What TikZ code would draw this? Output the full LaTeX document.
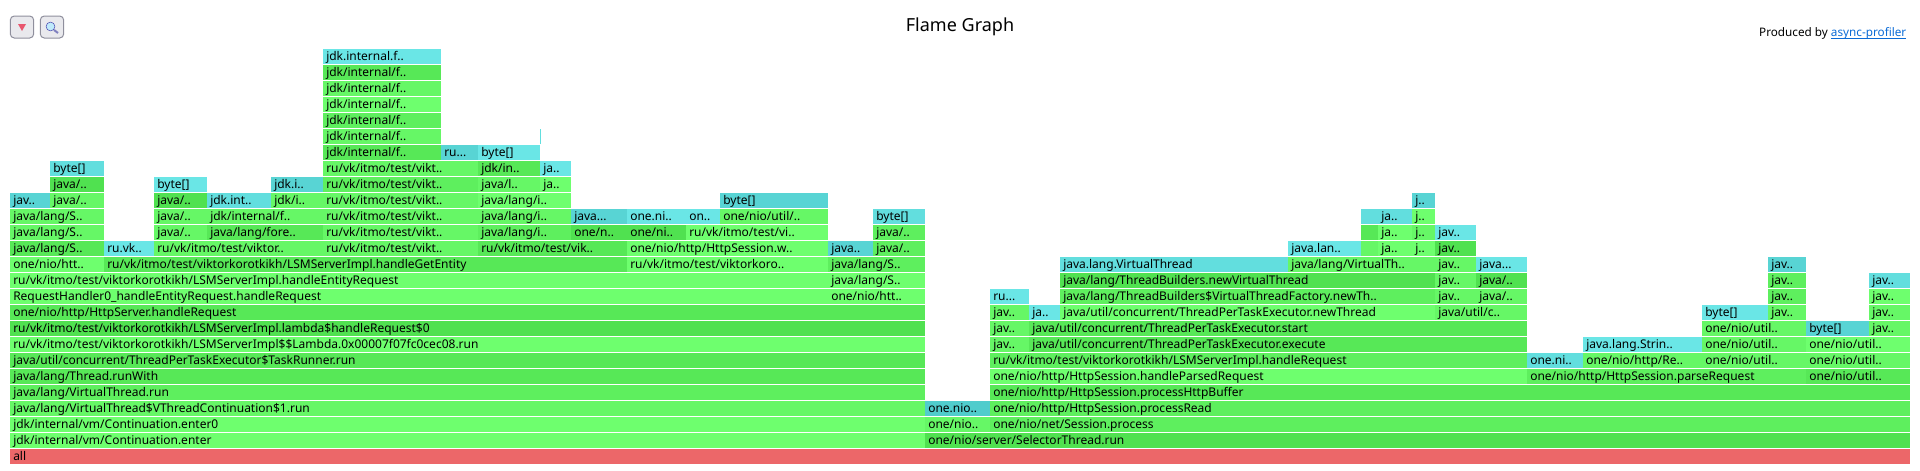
\documentclass[tikz,border=0pt]{standalone}
\usepackage{fontspec}
\setmainfont{Noto Sans}
\definecolor{gA}{HTML}{6EFF6E}
\definecolor{gB}{HTML}{66F766}
\definecolor{gC}{HTML}{5EEF5E}
\definecolor{gD}{HTML}{57E857}
\definecolor{gE}{HTML}{50E150}
\definecolor{aA}{HTML}{6AE6E6}
\definecolor{aB}{HTML}{62DEDE}
\definecolor{aC}{HTML}{58D4D4}
\definecolor{aD}{HTML}{50CCCC}
\definecolor{rA}{HTML}{EC6769}
\definecolor{btnF}{HTML}{E9E9ED}
\definecolor{btnD}{HTML}{8F8F9D}
\definecolor{linkC}{HTML}{0B6BD6}
\definecolor{triC}{HTML}{E8566E}
\tikzstyle{fS}=[anchor=north west,inner xsep=2.25pt,inner ysep=0pt,text height=8.1pt,text depth=3.15pt,font=\fontsize{9pt}{9pt}\selectfont,align=left]
\tikzstyle{bS}=[draw=btnD,fill=btnF,rounded corners=3pt,line width=0.75pt,minimum width=17.5pt,minimum height=16.5pt,inner sep=0pt]
\newcommand{\fBar}[6]{\node[fS,fill=#2,text width={(#5-#4)*0.75pt-4.5pt}] (#1) at (#4,{449-16*#3}) {\mbox{#6}};}
\begin{document}
\begin{tikzpicture}[x=0.75pt,y=-0.75pt]
    \useasboundingbox (0,0) rectangle (1920,471);
    \node[font=\fontsize{13.5pt}{13.5pt}\selectfont] (title) at (960,27) {Flame Graph};
    \node[anchor=east,font=\fontsize{8.8pt}{9pt}\selectfont] (by) at (1911,33) {Produced by \textcolor{linkC}{\underline{\smash{async-profiler}}}};
    \node[bS] (btnA) at (22,27) {};
    \node[bS] (btnB) at (52,27) {};
    \fill[triC] (18,24) -- (26,24) -- (22,31) -- cycle;
    \draw[line width=1.5pt,color=black!50!blue!50] (54,30) -- (58,33);
    \draw[fill=cyan!25,draw=blue!40!gray] (50.5,26.5) circle (3.3pt);
    % row 0-4
    \fBar{r0a}{rA}{0}{10}{1910}{all}
    \fBar{r1a}{gA}{1}{10}{925}{jdk/internal/vm/Continuation.enter}
    \fBar{r1b}{gE}{1}{925}{1910}{one/nio/server/SelectorThread.run}
    \fBar{r2a}{gA}{2}{10}{925}{jdk/internal/vm/Continuation.enter0}
    \fBar{r2b}{gB}{2}{925}{990}{one/nio..}
    \fBar{r2c}{gC}{2}{990}{1910}{one/nio/net/Session.process}
    \fBar{r3a}{gB}{3}{10}{925}{java/lang/VirtualThread\$VThreadContinuation\$1.run}
    \fBar{r3b}{aD}{3}{925}{990}{one.nio..}
    \fBar{r3c}{gC}{3}{990}{1910}{one/nio/http/HttpSession.processRead}
    \fBar{r4a}{gC}{4}{10}{925}{java/lang/VirtualThread.run}
    \fBar{r4b}{gD}{4}{990}{1910}{one/nio/http/HttpSession.processHttpBuffer}
    % row 5-8
    \fBar{r5a}{gD}{5}{10}{925}{java/lang/Thread.runWith}
    \fBar{r5b}{gA}{5}{990}{1527}{one/nio/http/HttpSession.handleParsedRequest}
    \fBar{r5c}{gC}{5}{1527}{1806}{one/nio/http/HttpSession.parseRequest}
    \fBar{r5d}{gD}{5}{1806}{1910}{one/nio/util..}
    \fBar{r6a}{gD}{6}{10}{925}{java/util/concurrent/ThreadPerTaskExecutor\$TaskRunner.run}
    \fBar{r6b}{gC}{6}{990}{1527}{ru/vk/itmo/test/viktorkorotkikh/LSMServerImpl.handleRequest}
    \fBar{r6c}{aB}{6}{1527}{1583}{one.ni..}
    \fBar{r6d}{gB}{6}{1583}{1702}{one/nio/http/Re..}
    \fBar{r6e}{gB}{6}{1702}{1806}{one/nio/util..}
    \fBar{r6f}{gB}{6}{1806}{1910}{one/nio/util..}
    \fBar{r7a}{gA}{7}{10}{925}{ru/vk/itmo/test/viktorkorotkikh/LSMServerImpl\$\$Lambda.0x00007f07fc0cec08.run}
    \fBar{r7b}{gB}{7}{990}{1029}{jav..}
    \fBar{r7c}{gD}{7}{1029}{1527}{java/util/concurrent/ThreadPerTaskExecutor.execute}
    \fBar{r7d}{aA}{7}{1583}{1702}{java.lang.Strin..}
    \fBar{r7e}{gB}{7}{1702}{1806}{one/nio/util..}
    \fBar{r7f}{gA}{7}{1806}{1910}{one/nio/util..}
    \fBar{r8a}{gE}{8}{10}{925}{ru/vk/itmo/test/viktorkorotkikh/LSMServerImpl.lambda\$handleRequest\$0}
    \fBar{r8b}{gB}{8}{990}{1029}{jav..}
    \fBar{r8c}{gD}{8}{1029}{1527}{java/util/concurrent/ThreadPerTaskExecutor.start}
    \fBar{r8d}{gB}{8}{1702}{1806}{one/nio/util..}
    \fBar{r8e}{aC}{8}{1806}{1869}{byte[]}
    \fBar{r8f}{gB}{8}{1869}{1910}{jav..}
    % row 9-12
    \fBar{r9a}{gD}{9}{10}{925}{one/nio/http/HttpServer.handleRequest}
    \fBar{r9b}{gB}{9}{990}{1029}{jav..}
    \fBar{r9c}{aA}{9}{1029}{1060}{ja..}
    \fBar{r9d}{gA}{9}{1060}{1435}{java/util/concurrent/ThreadPerTaskExecutor.newThread}
    \fBar{r9e}{gB}{9}{1435}{1527}{java/util/c..}
    \fBar{r9f}{aA}{9}{1702}{1768}{byte[]}
    \fBar{r9g}{gB}{9}{1768}{1806}{jav..}
    \fBar{r9h}{gB}{9}{1869}{1910}{jav..}
    \fBar{r10a}{gA}{10}{10}{828}{RequestHandler0\_handleEntityRequest.handleRequest}
    \fBar{r10b}{gA}{10}{828}{925}{one/nio/htt..}
    \fBar{r10c}{aA}{10}{990}{1029}{ru...}
    \fBar{r10d}{gC}{10}{1060}{1435}{java/lang/ThreadBuilders\$VirtualThreadFactory.newTh..}
    \fBar{r10e}{gB}{10}{1435}{1476}{jav..}
    \fBar{r10f}{gB}{10}{1476}{1527}{java/..}
    \fBar{r10g}{gC}{10}{1768}{1806}{jav..}
    \fBar{r10h}{gA}{10}{1869}{1910}{jav..}
    \fBar{r11a}{gA}{11}{10}{828}{ru/vk/itmo/test/viktorkorotkikh/LSMServerImpl.handleEntityRequest}
    \fBar{r11b}{gA}{11}{828}{925}{java/lang/S..}
    \fBar{r11c}{gE}{11}{1060}{1435}{java/lang/ThreadBuilders.newVirtualThread}
    \fBar{r11d}{gB}{11}{1435}{1476}{jav..}
    \fBar{r11e}{gE}{11}{1476}{1527}{java/..}
    \fBar{r11f}{gC}{11}{1768}{1806}{jav..}
    \fBar{r11g}{aB}{11}{1869}{1910}{jav..}
    \fBar{r12a}{gA}{12}{10}{104}{one/nio/htt..}
    \fBar{r12b}{gD}{12}{104}{627}{ru/vk/itmo/test/viktorkorotkikh/LSMServerImpl.handleGetEntity}
    \fBar{r12c}{gA}{12}{627}{828}{ru/vk/itmo/test/viktorkoro..}
    \fBar{r12d}{gC}{12}{828}{925}{java/lang/S..}
    \fBar{r12e}{aB}{12}{1060}{1288}{java.lang.VirtualThread}
    \fBar{r12f}{gB}{12}{1288}{1435}{java/lang/VirtualTh..}
    \fBar{r12g}{gB}{12}{1435}{1476}{jav..}
    \fBar{r12h}{aA}{12}{1476}{1527}{java...}
    \fBar{r12i}{aC}{12}{1768}{1806}{jav..}
    % row 13-16
    \fBar{r13a}{gD}{13}{10}{104}{java/lang/S..}
    \fBar{r13b}{aA}{13}{104}{154}{ru.vk..}
    \fBar{r13c}{gB}{13}{154}{323}{ru/vk/itmo/test/viktor..}
    \fBar{r13d}{gB}{13}{323}{478}{ru/vk/itmo/test/vikt..}
    \fBar{r13e}{gD}{13}{478}{627}{ru/vk/itmo/test/vik..}
    \fBar{r13f}{gA}{13}{627}{828}{one/nio/http/HttpSession.w..}
    \fBar{r13g}{aC}{13}{828}{873}{java..}
    \fBar{r13h}{gC}{13}{873}{925}{java/..}
    \fBar{r13i}{aA}{13}{1288}{1361}{java.lan..}
    \fBar{r13j}{gB}{13}{1361}{1378}{}
    \fBar{r13k}{gA}{13}{1378}{1412}{ja..}
    \fBar{r13l}{gA}{13}{1412}{1435}{j..}
    \fBar{r13m}{gE}{13}{1435}{1476}{jav..}
    \fBar{r14a}{gB}{14}{10}{104}{java/lang/S..}
    \fBar{r14b}{gB}{14}{154}{207}{java/..}
    \fBar{r14c}{gD}{14}{207}{323}{java/lang/fore..}
    \fBar{r14d}{gB}{14}{323}{478}{ru/vk/itmo/test/vikt..}
    \fBar{r14e}{gC}{14}{478}{571}{java/lang/i..}
    \fBar{r14f}{gE}{14}{571}{627}{one/n..}
    \fBar{r14g}{gE}{14}{627}{686}{one/ni..}
    \fBar{r14h}{gA}{14}{686}{828}{ru/vk/itmo/test/vi..}
    \fBar{r14i}{gC}{14}{873}{925}{java/..}
    \fBar{r14j}{gD}{14}{1361}{1378}{}
    \fBar{r14k}{gA}{14}{1378}{1412}{ja..}
    \fBar{r14l}{gB}{14}{1412}{1435}{j..}
    \fBar{r14m}{aA}{14}{1435}{1476}{jav..}
    \fBar{r15a}{gB}{15}{10}{104}{java/lang/S..}
    \fBar{r15b}{gB}{15}{154}{207}{java/..}
    \fBar{r15c}{gB}{15}{207}{323}{jdk/internal/f..}
    \fBar{r15d}{gB}{15}{323}{478}{ru/vk/itmo/test/vikt..}
    \fBar{r15e}{gB}{15}{478}{571}{java/lang/i..}
    \fBar{r15f}{aC}{15}{571}{627}{java...}
    \fBar{r15g}{aA}{15}{627}{686}{one.ni..}
    \fBar{r15h}{aA}{15}{686}{720}{on..}
    \fBar{r15i}{gB}{15}{720}{828}{one/nio/util/..}
    \fBar{r15j}{aB}{15}{873}{925}{byte[]}
    \fBar{r15k}{aB}{15}{1361}{1378}{}
    \fBar{r15l}{aB}{15}{1378}{1412}{ja..}
    \fBar{r15m}{gA}{15}{1412}{1435}{j..}
    \fBar{r16a}{aC}{16}{10}{50}{jav..}
    \fBar{r16b}{gB}{16}{50}{104}{java/..}
    \fBar{r16c}{gE}{16}{154}{207}{java/..}
    \fBar{r16d}{aB}{16}{207}{271}{jdk.int..}
    \fBar{r16e}{gB}{16}{271}{323}{jdk/i..}
    \fBar{r16f}{gB}{16}{323}{478}{ru/vk/itmo/test/vikt..}
    \fBar{r16g}{gA}{16}{478}{571}{java/lang/i..}
    \fBar{r16h}{aC}{16}{720}{828}{byte[]}
    \fBar{r16i}{aC}{16}{1412}{1435}{j..}
    % row 17-25
    \fBar{r17a}{gE}{17}{50}{104}{java/..}
    \fBar{r17b}{aA}{17}{154}{207}{byte[]}
    \fBar{r17c}{aC}{17}{271}{323}{jdk.i..}
    \fBar{r17d}{gC}{17}{323}{478}{ru/vk/itmo/test/vikt..}
    \fBar{r17e}{gB}{17}{478}{540}{java/l..}
    \fBar{r17f}{gA}{17}{540}{571}{ja..}
    \fBar{r18a}{aB}{18}{50}{104}{byte[]}
    \fBar{r18b}{gB}{18}{323}{478}{ru/vk/itmo/test/vikt..}
    \fBar{r18c}{gD}{18}{478}{540}{jdk/in..}
    \fBar{r18d}{aA}{18}{540}{571}{ja..}
    \fBar{r19a}{gD}{19}{323}{441}{jdk/internal/f..}
    \fBar{r19b}{aC}{19}{441}{478}{ru...}
    \fBar{r19c}{aA}{19}{478}{540}{byte[]}
    \fBar{r20a}{gB}{20}{323}{441}{jdk/internal/f..}
    \node[fill=aB,anchor=north west,inner sep=0pt,minimum width=0.75pt,minimum height=11.25pt] (r20b) at (539.5,129) {};
    \fBar{r21a}{gC}{21}{323}{441}{jdk/internal/f..}
    \fBar{r22a}{gA}{22}{323}{441}{jdk/internal/f..}
    \fBar{r23a}{gB}{23}{323}{441}{jdk/internal/f..}
    \fBar{r24a}{gD}{24}{323}{441}{jdk/internal/f..}
    \fBar{r25a}{aA}{25}{323}{441}{jdk.internal.f..}
\end{tikzpicture}
\end{document}
